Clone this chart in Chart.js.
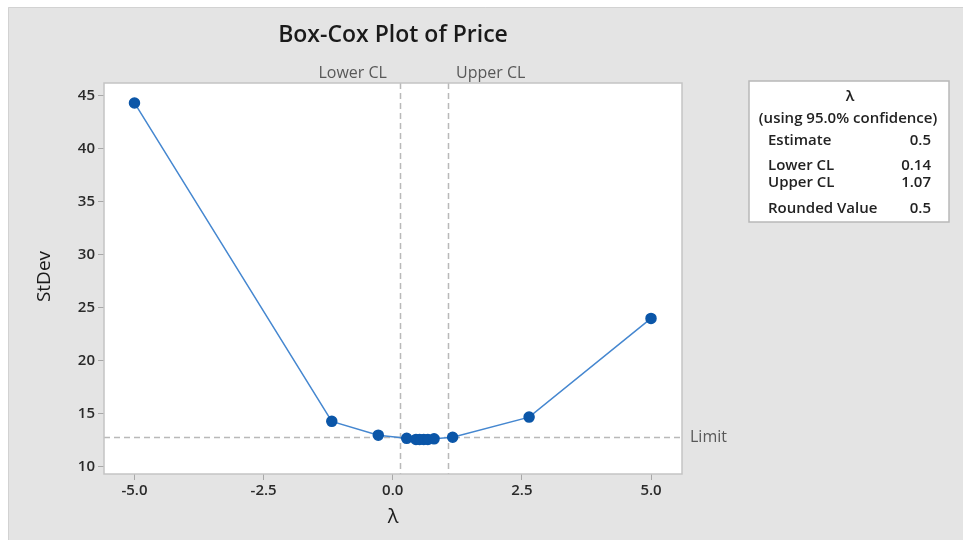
<!DOCTYPE html>
<html>
<head>
<meta charset="utf-8">
<script src="https://cdn.jsdelivr.net/npm/chart.js@4"></script>
<style>
  html, body { margin: 0; padding: 0; background: #ffffff; }
  #wrap { width: 963px; height: 540px; }
</style>
</head>
<body>
<div id="wrap"><canvas id="c" width="963" height="540"></canvas></div>
<script>
// Box-Cox profile: standard deviation of the transformed data for each lambda
const lambdaValues = [-5, -1.18, -0.28, 0.27, 0.45, 0.52, 0.6, 0.68, 0.8, 1.16, 2.64, 5];
const stdevValues  = [44.3, 14.3, 13.0, 12.7, 12.6, 12.6, 12.6, 12.6, 12.65, 12.8, 14.7, 24.0];

const xTickValues = [-5.0, -2.5, 0.0, 2.5, 5.0];
const yTickValues = [10, 15, 20, 25, 30, 35, 40, 45];

// Confidence interval and limit
const lowerCL = 0.14;
const upperCL = 1.07;
const limitStDev = 12.78;

// Summary table rows
const summaryLabels = ['Estimate', 'Lower CL', 'Upper CL', 'Rounded Value'];
const summaryValues = ['0.5', '0.14', '1.07', '0.5'];

const FONT = '"Open Sans", "Noto Sans", sans-serif';

const decorPlugin = {
  id: 'decor',
  beforeDraw(chart) {
    const { ctx, chartArea: a } = chart;
    ctx.save();
    ctx.fillStyle = '#ffffff';
    ctx.fillRect(0, 0, chart.width, chart.height);
    ctx.fillStyle = '#e4e4e4';
    ctx.fillRect(8, 7, chart.width - 8, chart.height - 7);
    ctx.strokeStyle = '#d2d2d2';
    ctx.lineWidth = 1;
    ctx.beginPath();
    ctx.moveTo(8.5, chart.height);
    ctx.lineTo(8.5, 7.5);
    ctx.lineTo(chart.width, 7.5);
    ctx.stroke();
    ctx.fillStyle = '#ffffff';
    ctx.fillRect(a.left, a.top, a.right - a.left, a.bottom - a.top);
    ctx.restore();
  },
  beforeDatasetsDraw(chart) {
    const { ctx, chartArea: a, scales: { x, y } } = chart;
    ctx.save();
    ctx.strokeStyle = '#b9b9b9';
    ctx.lineWidth = 1.5;
    ctx.setLineDash([6, 4]);
    [lowerCL, upperCL].forEach(v => {
      const px = Math.round(x.getPixelForValue(v)) + 0.5;
      ctx.beginPath();
      ctx.moveTo(px, a.top);
      ctx.lineTo(px, a.bottom);
      ctx.stroke();
    });
    const py = Math.round(y.getPixelForValue(limitStDev)) + 0.5;
    ctx.beginPath();
    ctx.moveTo(a.left, py);
    ctx.lineTo(a.right, py);
    ctx.stroke();
    ctx.restore();
  },
  afterDraw(chart) {
    const { ctx, chartArea: a, scales: { x, y } } = chart;
    ctx.save();
    // plot frame
    ctx.strokeStyle = '#c4c4c4';
    ctx.lineWidth = 1.5;
    ctx.strokeRect(a.left, a.top, a.right - a.left, a.bottom - a.top);

    // title
    ctx.fillStyle = '#1a1a1a';
    ctx.font = '600 23px ' + FONT;
    ctx.textAlign = 'center';
    ctx.textBaseline = 'middle';
    ctx.fillText('Box-Cox Plot of Price', (a.left + a.right) / 2, 35);

    // CL labels and limit label
    ctx.fillStyle = '#585858';
    ctx.font = '16px ' + FONT;
    ctx.textAlign = 'right';
    ctx.fillText('Lower CL', x.getPixelForValue(lowerCL) - 13, 73);
    ctx.textAlign = 'left';
    ctx.fillText('Upper CL', x.getPixelForValue(upperCL) + 8, 73);
    ctx.fillText('Limit', a.right + 8, y.getPixelForValue(limitStDev));

    // axis titles
    ctx.fillStyle = '#1a1a1a';
    ctx.font = '500 20px ' + FONT;
    ctx.textAlign = 'center';
    ctx.fillText('λ', (a.left + a.right) / 2, 517);
    ctx.save();
    ctx.translate(45, (a.top + a.bottom) / 2 - 2);
    ctx.rotate(-Math.PI / 2);
    ctx.font = '19px ' + FONT;
    ctx.fillText('StDev', 0, 0);
    ctx.restore();

    // summary box
    const bx = 749, by = 81, bw = 200, bh = 141;
    ctx.fillStyle = '#ffffff';
    ctx.fillRect(bx, by, bw, bh);
    ctx.strokeStyle = '#b8b8b8';
    ctx.lineWidth = 1.5;
    ctx.strokeRect(bx, by, bw, bh);
    ctx.fillStyle = '#222222';
    ctx.font = '600 15px ' + FONT;
    ctx.textAlign = 'center';
    ctx.fillText('λ', 850, 97);
    ctx.fillText('(using 95.0% confidence)', 848, 119);
    const rowY = [141, 166, 183, 209];
    summaryLabels.forEach((lab, i) => {
      ctx.textAlign = 'left';
      ctx.fillText(lab, 768, rowY[i]);
      ctx.textAlign = 'right';
      ctx.fillText(summaryValues[i], 931, rowY[i]);
    });
    ctx.restore();
  }
};

new Chart(document.getElementById('c'), {
  type: 'scatter',
  data: {
    datasets: [{
      data: lambdaValues.map((v, i) => ({ x: v, y: stdevValues[i] })),
      showLine: true,
      borderColor: '#4587d0',
      borderWidth: 1.5,
      pointBackgroundColor: '#0b56a8',
      pointBorderColor: '#0b56a8',
      pointRadius: 5,
      pointHoverRadius: 5
    }]
  },
  options: {
    responsive: false,
    animation: false,
    events: [],
    layout: { padding: { left: 0, top: 83, right: 281, bottom: 0 } },
    plugins: { legend: { display: false }, tooltip: { enabled: false } },
    scales: {
      x: {
        type: 'linear',
        min: -5.59,
        max: 5.60,
        afterBuildTicks: s => { s.ticks = xTickValues.map(v => ({ value: v })); },
        afterFit: s => { s.height = 66; },
        ticks: {
          color: '#2a2a2a',
          font: { family: FONT, size: 15, weight: '600' },
          padding: 2,
          maxRotation: 0,
          callback: v => Number(v).toFixed(1)
        },
        grid: { drawOnChartArea: false, drawTicks: true, tickLength: 6, color: '#a8a8a8' },
        border: { display: false }
      },
      y: {
        type: 'linear',
        min: 9.34,
        max: 46.18,
        afterBuildTicks: s => { s.ticks = yTickValues.map(v => ({ value: v })); },
        afterFit: s => { s.width = 104; },
        ticks: {
          color: '#2a2a2a',
          font: { family: FONT, size: 15, weight: '600' },
          padding: 3,
          callback: v => String(v)
        },
        grid: { drawOnChartArea: false, drawTicks: true, tickLength: 6, color: '#a8a8a8' },
        border: { display: false }
      }
    }
  },
  plugins: [decorPlugin]
});
</script>
</body>
</html>
